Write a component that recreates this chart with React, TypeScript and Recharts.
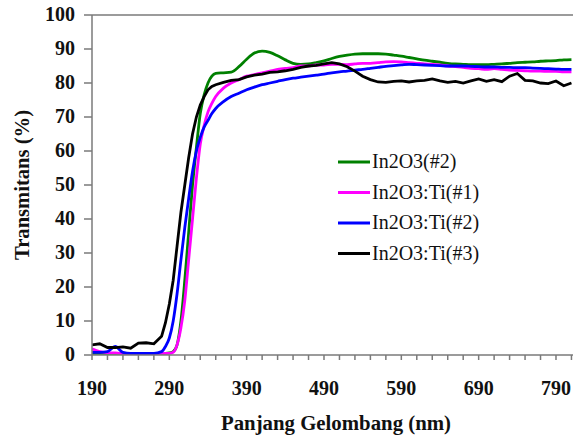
import { LineChart, Line, XAxis, YAxis, ReferenceLine } from 'recharts';

// wavelength in nm
const wavelengths = [
  190, 200, 210, 220, 230, 240, 250, 260, 270, 280,
  285, 290, 295, 300, 305, 310, 315, 320, 325, 330, 335, 340, 345, 350,
  360, 370, 380, 390, 400, 410, 420, 430, 440, 450, 460, 470, 480, 490,
  500, 510, 520, 530, 540, 550, 560, 570, 580, 590, 600, 610, 620, 630,
  640, 650, 660, 670, 680, 690, 700, 710, 720, 730, 740, 750, 760, 770,
  780, 790, 800, 810,
];

const in2o3 = [
  0.5, 0.5, 0.5, 0.5, 0.5, 0.5, 0.5, 0.5, 0.5, 0.5,
  0.5, 0.6, 1, 3, 10, 22, 36, 50, 61, 71, 76.5, 80, 82, 82.8,
  83, 83.2, 84.8, 87, 88.8, 89.4, 89, 88, 86.8, 85.8, 85.5, 85.6, 86, 86.5,
  87.2, 87.8, 88.2, 88.5, 88.6, 88.6, 88.6, 88.5, 88.2, 87.9, 87.5, 87.1, 86.7, 86.4,
  86.1, 85.8, 85.6, 85.5, 85.4, 85.4, 85.4, 85.5, 85.6, 85.8, 86, 86.1, 86.2, 86.4,
  86.5, 86.6, 86.8, 86.9,
];

const ti1 = [
  1.8, 1, 0.7, 0.6, 0.5, 0.5, 0.5, 0.5, 0.5, 0.5,
  0.5, 0.5, 0.8, 3, 8, 16, 28, 40, 52, 62, 67.5, 71.5, 74, 76,
  78.5, 80, 81, 82, 82.5, 83, 83.5, 84, 84.3, 84.5, 85, 85, 85.3, 85.3,
  85.5, 85.5, 85.4, 85.6, 85.8, 85.8, 86, 86.2, 86.3, 86.2, 86, 85.8, 85.6, 85.5,
  85.3, 85, 84.8, 84.6, 84.3, 84.2, 84, 84.2, 84, 83.8, 83.7, 83.6, 83.5, 83.5,
  83.4, 83.4, 83.3, 83.3,
];

const ti2 = [
  0.8, 0.8, 1, 2.5, 0.8, 0.5, 0.5, 0.5, 0.5, 1,
  2.5, 5, 10, 18, 28, 37.5, 46, 54, 60, 64, 67, 69, 71, 72.5,
  74.5, 76, 77, 78, 78.8, 79.5, 80, 80.5, 81, 81.4, 81.7, 82, 82.3, 82.6,
  83, 83.3, 83.5, 83.8, 84, 84.3, 84.6, 84.9, 85.1, 85.3, 85.5, 85.4, 85.3, 85.2,
  85.1, 85, 85, 85, 84.9, 84.8, 84.7, 84.7, 84.6, 84.6, 84.5, 84.5, 84.4, 84.3,
  84.2, 84.1, 84, 84,
];

const ti3 = [
  3, 3.3, 2.2, 2.2, 2.4, 2, 3.5, 3.6, 3.3, 5.5,
  9.5, 15, 22, 32, 42, 50, 58, 65, 70, 73.5, 76, 78, 79, 79.5,
  80.2, 80.8, 81, 81.8, 82.3, 82.6, 83.1, 83.3, 83.6, 84, 84.6, 85, 85.2, 85.6,
  86, 85.6, 84.8, 83.5, 82, 81, 80.3, 80.2, 80.5, 80.6, 80.3, 80.6, 80.8, 81.2,
  80.6, 80.2, 80.5, 80, 80.6, 81.2, 80.5, 81, 80.4, 82, 82.8, 80.8, 80.6, 80,
  79.8, 80.6, 79.2, 80,
];

const seriesNames = ['In2O3(#2)', 'In2O3:Ti(#1)', 'In2O3:Ti(#2)', 'In2O3:Ti(#3)'];
const seriesColors = ['#008000', '#ff00ff', '#0000ff', '#000000'];
const xTicks = [190, 210, 230, 250, 270, 290, 310, 330, 350, 370, 390, 410, 430, 450, 470, 490, 510, 530, 550, 570, 590, 610, 630, 650, 670, 690, 710, 730, 750, 770, 790, 810];
const xLabels = [190, 290, 390, 490, 590, 690, 790];
const yTicks = [0, 10, 20, 30, 40, 50, 60, 70, 80, 90, 100];

const data = wavelengths.map((w, i) => ({
  w,
  s0: in2o3[i],
  s1: ti1[i],
  s2: ti2[i],
  s3: ti3[i],
}));

const FONT = '"Liberation Serif", "Times New Roman", serif';
const AXIS = '#7a7a7a';

const XTick = ({ x, payload }: any) => {
  if (!xLabels.includes(payload.value)) return null;
  return (
    <text x={x} y={395} textAnchor="middle" fontFamily={FONT} fontWeight="bold" fontSize={20} fill="#111">
      {payload.value}
    </text>
  );
};

const YTick = ({ y, payload }: any) => (
  <text x={75} y={y + 6} textAnchor="end" fontFamily={FONT} fontWeight="bold" fontSize={20} fill="#111">
    {payload.value}
  </text>
);

export default function App() {
  return (
    <div style={{ position: 'relative', width: 573, height: 437, background: '#fff' }}>
      <style>{'body{margin:0}'}</style>
      <LineChart width={573} height={437} data={data} margin={{ top: 15, right: 0, left: 0, bottom: 0 }}>
        <XAxis
          dataKey="w"
          type="number"
          domain={[190, 812]}
          ticks={xTicks}
          interval={0}
          height={82}
          tickSize={5}
          tickLine={{ stroke: AXIS, strokeWidth: 1.5 }}
          axisLine={{ stroke: AXIS, strokeWidth: 1.5 }}
          tick={<XTick />}
          allowDataOverflow
        />
        <YAxis
          type="number"
          domain={[0, 100]}
          ticks={yTicks}
          interval={0}
          width={92}
          tickSize={8}
          tickLine={{ stroke: AXIS, strokeWidth: 1.5 }}
          axisLine={{ stroke: AXIS, strokeWidth: 1.5 }}
          tick={<YTick />}
        />
        <ReferenceLine y={100} stroke={AXIS} strokeWidth={1.5} />
        {seriesColors.map((c, i) => (
          <Line
            key={i}
            dataKey={`s${i}`}
            name={seriesNames[i]}
            stroke={c}
            strokeWidth={2.8}
            dot={false}
            type={i === 3 ? 'linear' : 'monotone'}
            isAnimationActive={false}
          />
        ))}
        <text x={336} y={430} textAnchor="middle" fontFamily={FONT} fontWeight="bold" fontSize={20} fill="#111" textLength={230} lengthAdjust="spacingAndGlyphs">
          Panjang Gelombang (nm)
        </text>
        <text
          x={0}
          y={0}
          transform="translate(29,185) rotate(-90)"
          textAnchor="middle"
          fontFamily={FONT}
          fontWeight="bold"
          fontSize={20}
          fill="#111"
          textLength={150}
          lengthAdjust="spacingAndGlyphs"
        >
          Transmitans (%)
        </text>
      </LineChart>
      <svg width={220} height={120} style={{ position: 'absolute', left: 330, top: 150 }}>
        {seriesNames.map((name, i) => {
          const cy = 12 + i * 30.5;
          return (
            <g key={name}>
              <line x1={8} x2={40} y1={cy} y2={cy} stroke={seriesColors[i]} strokeWidth={3} />
              <text x={42} y={cy + 6} fontFamily={FONT} fontSize={20} fill="#111">{name}</text>
            </g>
          );
        })}
      </svg>
    </div>
  );
}
